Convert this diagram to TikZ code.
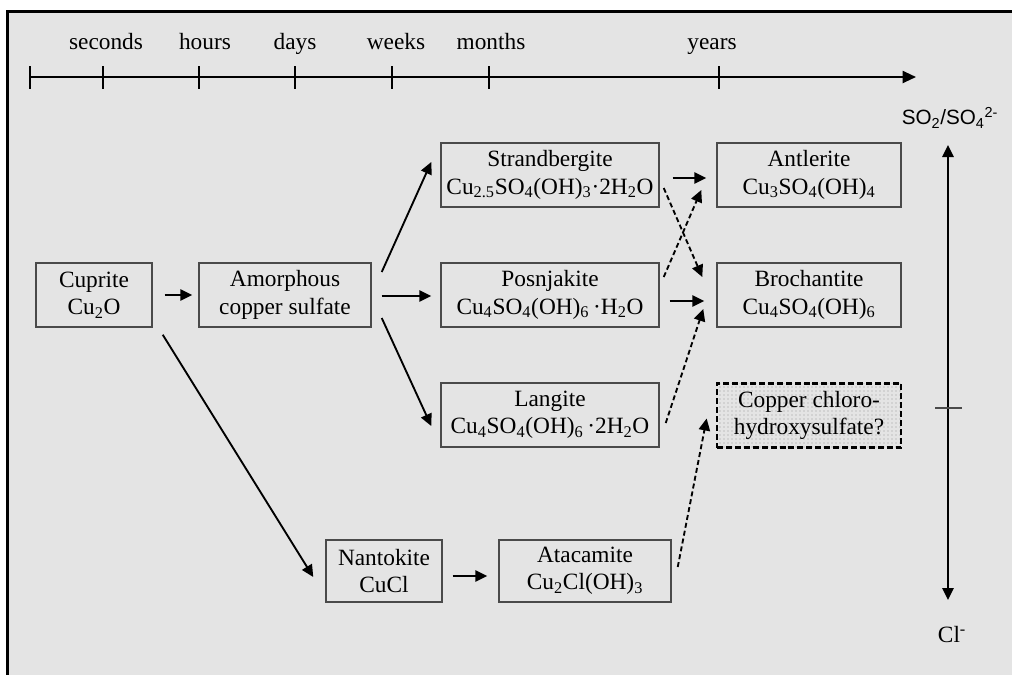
\documentclass[tikz,border=0pt]{standalone}
\usepackage{fontspec}
\setmainfont{Liberation Serif}
\newfontfamily\sansf{Liberation Sans}
\usetikzlibrary{arrows.meta,patterns}
\definecolor{bg}{HTML}{E4E4E4}
\definecolor{boxc}{HTML}{4A4A4A}
\newcommand{\sbs}[1]{\textsubscript{#1}}
\newcommand{\sps}[1]{\textsuperscript{#1}}
\begin{document}
\begin{tikzpicture}[x=0.75pt,y=-0.75pt,
  txt/.style={font=\fontsize{17.5}{20.5}\selectfont, inner sep=0pt},
  tlab/.style={txt, anchor=base},
  box/.style={txt, draw=boxc, line width=1.1pt, align=center, minimum height=48pt},
  arr/.style={line width=1.4pt, -{Triangle[length=9pt,width=8.5pt]}},
  darr/.style={arr, dash pattern=on 3.75pt off 2.25pt},
  tick/.style={line width=1.1pt}]
\useasboundingbox (0,0) rectangle (1012,675);
\fill[bg] (7.5,11.5) rectangle (1012,675);
\draw[line width=2.3pt] (6,11.5) -- (1012,11.5);
\draw[line width=2.3pt] (7.5,10) -- (7.5,675);

% timeline
\coordinate (t0) at (30,77);
\coordinate (tend) at (916,77);
\draw[line width=1.5pt, -{Triangle[length=10pt,width=9pt]}] (t0) -- (tend);
\foreach \xx in {30,103,199,295,392,489,719}
  \draw[tick] (\xx,66) -- (\xx,89);
\node[tlab] (ls) at (106,49) {seconds};
\node[tlab] (lh) at (205,49) {hours};
\node[tlab] (ld) at (295,49) {days};
\node[tlab] (lw) at (396,49) {weeks};
\node[tlab] (lm) at (491,49) {months};
\node[tlab] (ly) at (712,49) {years};

% boxes
\node[box, minimum width=87pt] (cup) at (94,295) {Cuprite\\Cu\sbs{2}O};
\node[box, minimum width=129pt] (amo) at (285,295) {Amorphous\\copper sulfate};
\node[box, minimum width=163.5pt] (str) at (550,175) {Strandbergite\\Cu\sbs{2.5}SO\sbs{4}(OH)\sbs{3}·2H\sbs{2}O};
\node[box, minimum width=163.5pt] (pos) at (550,295) {Posnjakite\\Cu\sbs{4}SO\sbs{4}(OH)\sbs{6}\,·H\sbs{2}O};
\node[box, minimum width=163.5pt] (lan) at (550,415) {Langite\\Cu\sbs{4}SO\sbs{4}(OH)\sbs{6}\,·2H\sbs{2}O};
\node[box, minimum width=138pt] (ant) at (809,175) {Antlerite\\Cu\sbs{3}SO\sbs{4}(OH)\sbs{4}};
\node[box, minimum width=138pt] (bro) at (809,295) {Brochantite\\Cu\sbs{4}SO\sbs{4}(OH)\sbs{6}};
\node[box, minimum width=138pt, draw=black, line width=2pt, dash pattern=on 4.5pt off 2.2pt,
      preaction={fill=bg}, pattern=dots, pattern color=gray!80] (ccs) at (809,415.5) {Copper chloro-\\hydroxysulfate?};
\node[box, minimum width=87pt, minimum height=46.5pt] (nan) at (384,571) {Nantokite\\CuCl};
\node[box, minimum width=129pt, minimum height=46.5pt] (ata) at (585,571) {Atacamite\\Cu\sbs{2}Cl(OH)\sbs{3}};

% connectors
\draw[arr] ([shift={(12,0)}]cup.east) -- ([shift={(-6,0)}]amo.west);
\draw[arr] ([shift={(10,-23)}]amo.east) -- ([shift={(-9,-13)}]str.west);
\draw[arr] ([shift={(10,1)}]amo.east) -- ([shift={(-9,1)}]pos.west);
\draw[arr] ([shift={(10,23)}]amo.east) -- ([shift={(-9,11)}]lan.west);
\draw[arr] ([shift={(10,7)}]cup.south east) -- ([shift={(-12,6)}]nan.west);
\draw[arr] ([shift={(10,5)}]nan.east) -- ([shift={(-11,5)}]ata.west);
\draw[arr] ([shift={(13,3)}]str.east) -- ([shift={(-10,3)}]ant.west);
\draw[arr] ([shift={(10,6)}]pos.east) -- ([shift={(-12,6)}]bro.west);
\draw[darr] ([shift={(4,13)}]str.east) -- ([shift={(-14,-18)}]bro.west);
\draw[darr] ([shift={(4,-18)}]pos.east) -- ([shift={(-15,15)}]ant.west);
\draw[darr] ([shift={(6,8)}]lan.east) -- ([shift={(-13,14)}]bro.west);
\draw[darr] ([shift={(6,-4)}]ata.east) -- ([shift={(-9,3)}]ccs.west);

% right axis
\coordinate (atop) at (948,145);
\coordinate (abot) at (948,600);
\draw[line width=1.3pt, {Triangle[length=9pt,width=8.5pt]}-{Triangle[length=9pt,width=8.5pt]}] (atop) -- (abot);
\draw[line width=1pt, draw=boxc] (935,408) -- (962,408);
\node[inner sep=0pt, font=\sansf\fontsize{15.5}{18}\selectfont] (so) at (950,118) {SO\sbs{2}/SO\sbs{4}\sps{2-}};
\node[txt] (cl) at (952,635) {Cl\sps{-}};
\end{tikzpicture}
\end{document}
